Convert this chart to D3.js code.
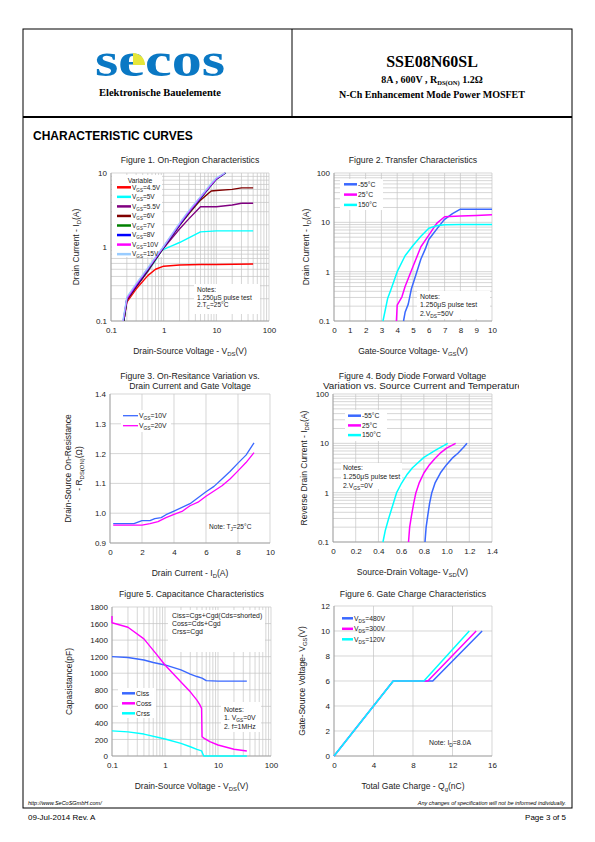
<!DOCTYPE html>
<html><head><meta charset="utf-8">
<script src="https://cdn.jsdelivr.net/npm/d3@7"></script>
<style>body{margin:0;background:#fff}svg{display:block}</style>
</head><body>
<script>
// ---------------- DATA ----------------
// Figure 1: On-Region Characteristics (VDS, ID) log-log
const fig1Series = ["VGS=4.5V","VGS=5V","VGS=5.5V","VGS=6V","VGS=7V","VGS=8V","VGS=10V","VGS=15V"];
const fig1Colors = ["#ff0000","#00ffff","#800080","#800000","#008000","#0000ff","#ff00ff","#99ccff"];
const fig1_45 = [[0.175,0.1],[0.2,0.18],[0.3,0.27],[0.5,0.41],[0.7,0.5],[1,0.55],[2,0.57],[5,0.58],[10,0.58],[50,0.59]];
const fig1_5  = [[0.175,0.1],[0.2,0.19],[0.3,0.29],[0.5,0.47],[0.7,0.66],[0.9,0.88],[1,0.93],[1.5,1.05],[2,1.15],[5,1.6],[10,1.65],[50,1.65]];
const fig1_55 = [[0.175,0.1],[0.2,0.19],[0.3,0.29],[0.5,0.47],[0.7,0.68],[1,0.97],[2,1.75],[3,2.4],[5,3.5],[10,3.5],[20,3.7],[30,3.9],[50,3.9]];
const fig1_6  = [[0.175,0.1],[0.2,0.19],[0.3,0.29],[0.5,0.48],[0.7,0.68],[1,0.98],[2,1.95],[3,2.8],[5,4.3],[8,5.7],[10,5.8],[20,6.0],[30,6.3],[50,6.3]];
const fig1_7  = [[0.175,0.1],[0.2,0.2],[0.3,0.3],[0.5,0.49],[0.7,0.69],[1,0.99],[2,2.0],[3,2.9],[5,4.5],[8,6.8],[10,8.2],[15,10]];
const fig1_8  = [[0.172,0.1],[0.2,0.2],[0.3,0.3],[0.5,0.5],[0.7,0.7],[1,1.0],[2,2.0],[3,2.95],[5,4.6],[8,6.9],[10,8.3],[14.8,10]];
const fig1_10 = [[0.17,0.1],[0.2,0.2],[0.3,0.31],[0.5,0.51],[0.7,0.71],[1,1.01],[2,2.05],[3,3.0],[5,4.7],[8,7.0],[10,8.4],[14.6,10]];
const fig1_15 = [[0.168,0.1],[0.2,0.21],[0.3,0.32],[0.5,0.52],[0.7,0.73],[1,1.03],[2,2.1],[3,3.1],[5,4.8],[8,7.2],[10,8.6],[14.4,10]];
const fig1XTicks = [0.1,1,10,100];
const fig1YTicks = [0.1,1,10];

// Figure 2: Transfer Characteristics (VGS, ID)
const fig2Series = ["-55°C","25°C","150°C"];
const fig2Colors = ["#3a68ff","#ff00ff","#00ffff"];
const fig2_m55 = [[4.4,0.1],[4.5,0.15],[4.7,0.22],[4.9,0.45],[5.2,0.9],[5.5,1.8],[5.8,3],[6,4.5],[6.3,6],[6.6,8],[7,11.5],[7.5,15],[8,18.5],[9,18.5],[10,18.5]];
const fig2_25  = [[3.95,0.1],[4.0,0.21],[4.3,0.31],[4.5,0.5],[5,1.27],[5.5,3.2],[6,5.5],[6.5,9.5],[7,13],[8,13.5],[9,13.8],[10,14.2]];
const fig2_150 = [[3.1,0.1],[3.4,0.29],[3.6,0.43],[4,1.0],[4.5,2.1],[5,3.4],[5.5,5.2],[6,7.6],[6.5,8.5],[7,8.9],[8,9],[10,9]];
const fig2XTicks = [0,1,2,3,4,5,6,7,8,9,10];
const fig2YTicks = [0.1,1,10,100];

// Figure 3: On-Resistance vs Drain Current (ID, RDS(ON))
const fig3Series = ["VGS=10V","VGS=20V"];
const fig3Colors = ["#3a68ff","#ff00ff"];
const fig3_10 = [[0.2,0.965],[1.5,0.965],[2,0.975],[2.5,0.975],[2.8,0.982],[3.2,0.985],[3.5,0.995],[4,1.007],[5,1.032],[6,1.072],[6.5,1.09],[7,1.115],[7.5,1.14],[8,1.168],[8.5,1.195],[9,1.236]];
const fig3_20 = [[0.2,0.96],[2,0.96],[2.5,0.965],[3,0.972],[3.5,0.985],[4,0.996],[4.5,1.006],[5,1.025],[5.5,1.037],[6,1.057],[7,1.092],[7.5,1.115],[8,1.142],[8.5,1.17],[9,1.203]];
const fig3XTicks = [0,2,4,6,8,10];
const fig3YTicks = [0.9,1.0,1.1,1.2,1.3,1.4];

// Figure 4: Body Diode Forward Voltage (VSD, IDR)
const fig4Series = ["-55°C","25°C","150°C"];
const fig4Colors = ["#3a68ff","#ff00ff","#00ffff"];
const fig4_m55 = [[0.81,0.1],[0.82,0.2],[0.835,0.35],[0.85,0.6],[0.87,1.0],[0.9,1.6],[0.95,2.6],[1.0,3.7],[1.05,5],[1.1,6.3],[1.15,8.3],[1.18,10]];
const fig4_25  = [[0.665,0.1],[0.675,0.2],[0.69,0.33],[0.71,0.6],[0.73,1.0],[0.76,1.6],[0.8,2.5],[0.85,3.7],[0.9,5],[0.95,6.5],[1.0,8],[1.08,10]];
const fig4_150 = [[0.44,0.1],[0.46,0.17],[0.49,0.3],[0.52,0.5],[0.56,1.0],[0.6,1.5],[0.65,2.3],[0.7,3.2],[0.8,5.2],[0.9,7.2],[1.01,10]];
const fig4XTicks = [0,0.2,0.4,0.6,0.8,1.0,1.2,1.4];
const fig4YTicks = [0.1,1,10,100];

// Figure 5: Capacitance (VDS, pF)
const fig5Series = ["Ciss","Coss","Crss"];
const fig5Colors = ["#3a68ff","#ff00ff","#00ffff"];
const fig5_ciss = [[0.1,1200],[0.2,1190],[0.4,1160],[0.6,1130],[1,1100],[2,1040],[3,990],[4,960],[5,940],[6,910],[10,905],[35,905]];
const fig5_coss = [[0.1,1690],[0.1,1610],[0.2,1555],[0.4,1415],[0.7,1225],[1,1100],[2,895],[3,775],[4,675],[4.5,623],[4.9,575],[5.0,233],[5.5,213],[7,173],[10,133],[20,82],[35,60]];
const fig5_crss = [[0.1,303],[0.2,292],[0.4,265],[1,205],[2,153],[3,112],[4,80],[4.9,62],[5.3,10],[5.4,0],[35,0]];
const fig5XTicks = [0.1,1,10,100];
const fig5YTicks = [0,200,400,600,800,1000,1200,1400,1600,1800];

// Figure 6: Gate Charge (Qg, VGS)
const fig6Series = ["VDS=480V","VDS=300V","VDS=120V"];
const fig6Colors = ["#3a68ff","#ff00ff","#00ffff"];
const fig6_480 = [[0,0],[6,6],[10,6],[15,10]];
const fig6_300 = [[0,0],[6,6],[9.5,6],[14.4,10]];
const fig6_120 = [[0,0],[6,6],[9.1,6],[13.7,10]];
const fig6XTicks = [0,4,8,12,16];
const fig6YTicks = [0,2,4,6,8,10,12];

// ---------------- DRAWING ----------------
const SANS = "'Liberation Sans', Arial, Helvetica, sans-serif";
const SERIF = "'Liberation Serif', 'Times New Roman', serif";
const svg = d3.select("body").append("svg").attr("width",595).attr("height",842);

// page frame and header
svg.append("rect").attr("x",23).attr("y",29).attr("width",549).attr("height",779)
  .attr("fill","none").attr("stroke","#000").attr("stroke-width",1);
svg.append("line").attr("x1",23).attr("x2",572).attr("y1",117).attr("y2",117).attr("stroke","#000").attr("stroke-width",2);
svg.append("line").attr("x1",292).attr("x2",292).attr("y1",29).attr("y2",117).attr("stroke","#000").attr("stroke-width",1);

// logo
svg.append("text").attr("x",95).attr("y",76).attr("font-family",SERIF).attr("font-weight","bold")
  .attr("font-size",48).attr("fill","#0a78c4").attr("textLength",130).attr("lengthAdjust","spacingAndGlyphs").text("secos");
svg.append("path").attr("d","M133,65 L133,53 A12,12 0 0 1 145,65 Z").attr("fill","#e6e63a");
svg.append("text").attr("x",160).attr("y",96).attr("text-anchor","middle").attr("font-family",SERIF)
  .attr("font-weight","bold").attr("font-size",10.5).text("Elektronische Bauelemente");

svg.append("text").attr("x",432).attr("y",67).attr("text-anchor","middle").attr("font-family",SERIF)
  .attr("font-weight","bold").attr("font-size",16).text("SSE08N60SL");
const t2 = svg.append("text").attr("x",432).attr("y",83).attr("text-anchor","middle").attr("font-family",SERIF)
  .attr("font-weight","bold").attr("font-size",10);
t2.append("tspan").text("8A , 600V , R");
t2.append("tspan").attr("font-size",6.5).attr("dy",1.5).text("DS(ON)");
t2.append("tspan").attr("dy",-1.5).text(" 1.2Ω");
svg.append("text").attr("x",432).attr("y",98).attr("text-anchor","middle").attr("font-family",SERIF)
  .attr("font-weight","bold").attr("font-size",10).text("N-Ch Enhancement Mode Power MOSFET");

svg.append("text").attr("x",33).attr("y",140).attr("font-family",SANS).attr("font-weight","bold")
  .attr("font-size",12).text("CHARACTERISTIC CURVES");

// footer
svg.append("text").attr("x",28).attr("y",805).attr("font-family",SANS).attr("font-style","italic")
  .attr("font-size",5.5).text("http://www.SeCoSGmbH.com/");
svg.append("text").attr("x",566).attr("y",805).attr("text-anchor","end").attr("font-family",SANS).attr("font-style","italic")
  .attr("font-size",5.5).text("Any changes of specification will not be informed individually.");
svg.append("text").attr("x",28).attr("y",820).attr("font-family",SANS).attr("font-size",8).text("09-Jul-2014 Rev. A");
svg.append("text").attr("x",566).attr("y",820).attr("text-anchor","end").attr("font-family",SANS).attr("font-size",8).text("Page 3 of 5");

// helpers
function richText(g, parts, attrs) {
  const t = g.append("text").attr("font-family",SANS);
  Object.entries(attrs).forEach(([k,v])=>t.attr(k,v));
  let shift = 0;
  parts.forEach(p=>{
    const isSub = Array.isArray(p);
    const s = t.append("tspan").text(isSub ? p[0] : p);
    const target = isSub ? 2 : 0;
    if (target !== shift) { s.attr("dy", target - shift); shift = target; }
    if (isSub) s.attr("font-size","70%");
  });
  return t;
}
function logMinor(dom) {
  const out = [];
  for (let e = Math.floor(Math.log10(dom[0])); e < Math.ceil(Math.log10(dom[1])); e++) {
    for (let k = 1; k < 10; k++) { const v = k*Math.pow(10,e); if (v>=dom[0] && v<=dom[1]) out.push(v); }
  }
  out.push(dom[1]);
  return out;
}

function panel(p) {
  const g = svg.append("g");
  const x = (p.xLog ? d3.scaleLog() : d3.scaleLinear()).domain(p.xDom).range([p.x0,p.x1]);
  const y = (p.yLog ? d3.scaleLog() : d3.scaleLinear()).domain(p.yDom).range([p.y1,p.y0]);
  const xg = p.xLog ? logMinor(p.xDom) : p.xTicks;
  const yg = p.yLog ? logMinor(p.yDom) : p.yTicks;
  g.selectAll(".gx").data(xg).join("line").attr("x1",d=>x(d)).attr("x2",d=>x(d)).attr("y1",p.y0).attr("y2",p.y1)
    .attr("stroke","#c4c4c4").attr("stroke-width",0.7);
  g.selectAll(".gy").data(yg).join("line").attr("y1",d=>y(d)).attr("y2",d=>y(d)).attr("x1",p.x0).attr("x2",p.x1)
    .attr("stroke","#c4c4c4").attr("stroke-width",0.7);
  g.append("line").attr("x1",p.x0).attr("x2",p.x0).attr("y1",p.y0).attr("y2",p.y1).attr("stroke","#9a9a9a").attr("stroke-width",0.8);
  g.append("line").attr("x1",p.x0).attr("x2",p.x1).attr("y1",p.y1).attr("y2",p.y1).attr("stroke","#9a9a9a").attr("stroke-width",0.8);

  const ax = g.append("g").attr("transform",`translate(0,${p.y1})`)
    .call(d3.axisBottom(x).tickValues(p.xTicks).tickFormat(p.xFmt).tickSize(0).tickPadding(6));
  const ay = g.append("g").attr("transform",`translate(${p.x0},0)`)
    .call(d3.axisLeft(y).tickValues(p.yTicks).tickFormat(p.yFmt).tickSize(0).tickPadding(4));
  [ax,ay].forEach(a=>{ a.select(".domain").remove(); a.selectAll("text").attr("font-family",SANS).attr("font-size",8).attr("fill","#222"); });

  // title
  p.title.forEach((tl,i)=>{
    const t = g.append("text").attr("y",p.titleY + i*10)
      .attr("font-family",SANS).attr("font-size",8.7).attr("fill","#222").text(tl);
    if (p.titleClip && i===1) {
      t.attr("x",p.titleStart).attr("text-anchor","start").attr("textLength",p.titleLen)
       .attr("lengthAdjust","spacingAndGlyphs").attr("clip-path","url(#"+p.titleClip+")");
    } else {
      t.attr("x",(p.x0+p.x1)/2).attr("text-anchor","middle");
    }
  });
  // x label
  richText(g, p.xLabel, {x:(p.x0+p.x1)/2, y:p.y1+33, "text-anchor":"middle","font-size":8.5,fill:"#222"});
  // y label(s)
  p.yLabel.forEach((lbl,i)=>{
    const lx = p.yLabelX + i*11;
    richText(g, lbl, {x:0,y:0,"text-anchor":"middle","font-size":8.5,fill:"#222",
      transform:`translate(${lx},${(p.y0+p.y1)/2}) rotate(-90)`});
  });
  return {g,x,y};
}

function drawLines(P, series, colors, width) {
  const line = d3.line().x(d=>P.x(d[0])).y(d=>P.y(d[1]));
  series.forEach((s,i)=> P.g.append("path").attr("d",line(s)).attr("fill","none")
    .attr("stroke",colors[i]).attr("stroke-width",width).attr("stroke-linejoin","round"));
}
function whiteBox(g,x,y,w,h){ g.append("rect").attr("x",x).attr("y",y).attr("width",w).attr("height",h).attr("fill","#fff"); }
function legend(g, names, colors, lx, ly, step, lineLen, fs, lw) {
  names.forEach((n,i)=>{
    const yy = ly + i*step;
    g.append("line").attr("x1",lx).attr("x2",lx+lineLen).attr("y1",yy).attr("y2",yy).attr("stroke",colors[i]).attr("stroke-width",lw);
    const m = n.match(/^([VC])(GS|DS)(=.*)$/);
    const parts = m ? [m[1],[m[2]],m[3]] : [n];
    richText(g, parts, {x:lx+lineLen+1, y:yy+2.3, "font-size":fs, fill:"#222"});
  });
}
function notes(g, lines, x, y, step, fs) {
  lines.forEach((l,i)=> richText(g, l, {x:x, y:y+i*step, "font-size":fs, fill:"#222"}));
}

const fmtPlain = d=>String(d);
const fmt1 = d3.format(".1f");

svg.append("defs").append("clipPath").attr("id","clip4").append("rect").attr("x",290).attr("y",360).attr("width",229).attr("height",40);

// ---- Figure 1
const P1 = panel({x0:111,x1:269,y0:173,y1:321,xLog:true,yLog:true,xDom:[0.1,100],yDom:[0.1,10],
  xTicks:fig1XTicks,yTicks:fig1YTicks,xFmt:fmtPlain,yFmt:fmtPlain,
  title:["Figure 1. On-Region Characteristics"],titleY:163,
  xLabel:["Drain-Source Voltage - V",["DS"],"(V)"], yLabel:[["Drain Current - I",["D"],"(A)"]], yLabelX:79});
whiteBox(P1.g,112,175,50,82);
whiteBox(P1.g,194,284,66,30);
drawLines(P1,[fig1_45,fig1_5,fig1_55,fig1_6,fig1_7,fig1_8,fig1_10,fig1_15],fig1Colors,1.4);
P1.g.append("text").attr("x",140).attr("y",182.5).attr("text-anchor","middle").attr("font-family",SANS).attr("font-size",6.8).attr("fill","#222").text("Variable");
legend(P1.g, fig1Series, fig1Colors, 117, 187.3, 9.55, 14, 6.5, 2.5);
notes(P1.g, [["Notes:"],["1.250μS pulse test"],["2.T",["C"],"=25°C"]], 197, 292, 7.7, 6.6);

// ---- Figure 2
const P2 = panel({x0:334,x1:492,y0:173,y1:321,xLog:false,yLog:true,xDom:[0,10],yDom:[0.1,100],
  xTicks:fig2XTicks,yTicks:fig2YTicks,xFmt:fmtPlain,yFmt:fmtPlain,
  title:["Figure 2. Transfer Characteristics"],titleY:163,
  xLabel:["Gate-Source Voltage- V",["GS"],"(V)"], yLabel:[["Drain Current - I",["D"],"(A)"]], yLabelX:309});
whiteBox(P2.g,340,179,43,31);
whiteBox(P2.g,417,291,73,28);
drawLines(P2,[fig2_m55,fig2_25,fig2_150],fig2Colors,1.5);
legend(P2.g, fig2Series, fig2Colors, 344, 184.3, 10.3, 13, 6.8, 2.5);
notes(P2.g, [["Notes:"],["1.250μS pulse test"],["2.V",["DS"],"=50V"]], 420, 298.5, 8.6, 6.9);

// ---- Figure 3
const P3 = panel({x0:110,x1:270,y0:394,y1:543,xLog:false,yLog:false,xDom:[0,10],yDom:[0.9,1.4],
  xTicks:fig3XTicks,yTicks:fig3YTicks,xFmt:fmtPlain,yFmt:fmt1,
  title:["Figure 3. On-Resitance Variation vs.","Drain Current and Gate Voltage"],titleY:379,
  xLabel:["Drain Current - I",["D"],"(A)"],
  yLabel:[["Drain-Source On-Resistance"],["- R",["DS(ON)"],"(Ω)"]], yLabelX:71});
whiteBox(P3.g,121,410,50,22);
drawLines(P3,[fig3_10,fig3_20],fig3Colors,1.3);
legend(P3.g, fig3Series, fig3Colors, 123, 415.7, 10, 15, 6.8, 1.3);
notes(P3.g, [["Note: T",["J"],"=25°C"]], 209, 528.5, 8, 6.6);

// ---- Figure 4
const P4 = panel({x0:333,x1:492,y0:394,y1:542,xLog:false,yLog:true,xDom:[0,1.4],yDom:[0.1,100],
  xTicks:fig4XTicks,yTicks:fig4YTicks,xFmt:d=>d===0?"0":fmt1(d),yFmt:fmtPlain,
  title:["Figure 4. Body Diode Forward Voltage","Variation vs. Source Current and Temperature"],titleY:379,
  titleClip:"clip4",titleStart:323,titleLen:200,
  xLabel:["Source-Drain Voltage- V",["SD"],"(V)"], yLabel:[["Reverse Drain Current - I",["DR"],"(A)"]], yLabelX:307});
whiteBox(P4.g,345,410,42,31);
whiteBox(P4.g,341,463,61,26);
drawLines(P4,[fig4_m55,fig4_25,fig4_150],fig4Colors,1.5);
legend(P4.g, fig4Series, fig4Colors, 348, 415.7, 9.7, 13, 6.8, 2.5);
notes(P4.g, [["Notes:"],["1.250μS pulse test"],["2.V",["GS"],"=0V"]], 343, 470.3, 8.7, 6.9);

// ---- Figure 5
const P5 = panel({x0:112,x1:271,y0:607,y1:756,xLog:true,yLog:false,xDom:[0.1,100],yDom:[0,1800],
  xTicks:fig5XTicks,yTicks:fig5YTicks,xFmt:fmtPlain,yFmt:fmtPlain,
  title:["Figure 5. Capacitance Characteristics"],titleY:597,
  xLabel:["Drain-Source Voltage - V",["DS"],"(V)"], yLabel:[["Capasistance(pF)"]], yLabelX:72});
whiteBox(P5.g,168,610,97,42);
whiteBox(P5.g,118,688,38,30);
whiteBox(P5.g,221,702,40,30);
drawLines(P5,[fig5_ciss,fig5_coss,fig5_crss],fig5Colors,1.4);
legend(P5.g, fig5Series, fig5Colors, 122, 693.3, 10, 13, 6.8, 2.5);
notes(P5.g, [["Ciss=Cgs+Cgd(Cds=shorted)"],["Coss=Cds+Cgd"],["Crss=Cgd"]], 172, 618, 8, 6.9);
notes(P5.g, [["Notes:"],["1. V",["GS"],"=0V"],["2. f=1MHz"]], 224, 711.5, 8.7, 6.9);

// ---- Figure 6
const P6 = panel({x0:334,x1:492,y0:606,y1:756,xLog:false,yLog:false,xDom:[0,16],yDom:[0,12],
  xTicks:fig6XTicks,yTicks:fig6YTicks,xFmt:fmtPlain,yFmt:fmtPlain,
  title:["Figure 6. Gate Charge Characteristics"],titleY:597,
  xLabel:["Total Gate Charge - Q",["g"],"(nC)"], yLabel:[["Gate-Source Voltage- V",["GS"],"(V)"]], yLabelX:305});
drawLines(P6,[fig6_480,fig6_300,fig6_120],fig6Colors,1.5);
legend(P6.g, fig6Series, fig6Colors, 342, 618.3, 10.5, 11, 6.8, 2.5);
notes(P6.g, [["Note: I",["D"],"=8.0A"]], 429, 744.5, 8, 6.9);
</script>
</body></html>
